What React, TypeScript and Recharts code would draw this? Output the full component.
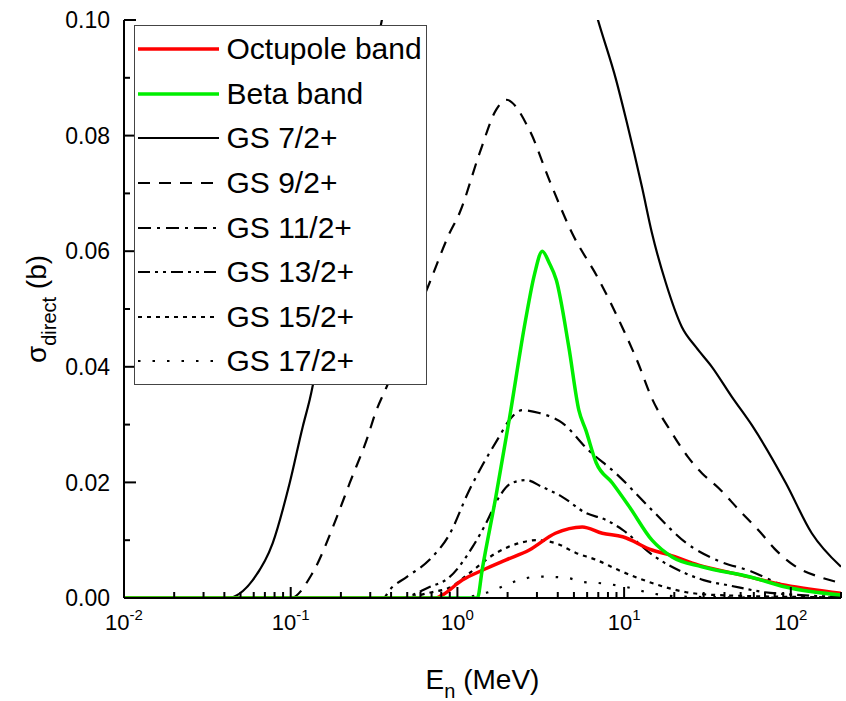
import { LineChart, Line, XAxis, YAxis, Legend, Label } from "recharts"

const FONT = '"Liberation Sans", Arial, Helvetica, sans-serif'

// neutron energy (MeV) and direct cross section (b)
const octupoleEnergy = [0.01, 0.74, 0.8, 1.07, 1.41, 1.96, 2.7, 3.87, 5.61, 7.4, 9.8, 14.7, 18.5, 28, 50, 93, 200]
const octupoleSigma = [0, 0, 0.0004, 0.0031, 0.0048, 0.0066, 0.0083, 0.0112, 0.0123, 0.0112, 0.0106, 0.0083, 0.0075, 0.0057, 0.004, 0.0022, 0.0008]

const betaEnergy = [0.01, 1.318, 1.41, 1.7, 2.05, 2.56, 2.9, 3.23, 3.55, 3.92, 4.66, 5.35, 5.9, 6.8, 8.5, 10.8, 14.7, 19.4, 29.3, 58, 93, 200]
const betaSigma = [0, 0, 0.005, 0.0175, 0.031, 0.048, 0.056, 0.06, 0.058, 0.055, 0.0434, 0.0325, 0.029, 0.0234, 0.0199, 0.0157, 0.01, 0.0071, 0.0054, 0.0036, 0.0019, 0.0005]

const gs7Energy = [0.01, 0.0414, 0.0592, 0.078, 0.0986, 0.118, 0.13, 0.2, 0.3, 0.5, 1, 2, 4, 6.89, 8.96, 10.3, 12.8, 14.7, 17.8, 22.2, 27, 33.6, 44.3, 58.4, 93.3, 133.6, 200]
const gs7Sigma = [0, 0, 0.0031, 0.0095, 0.0199, 0.0296, 0.0343, 0.065, 0.09, 0.12, 0.14, 0.145, 0.128, 0.1005, 0.0896, 0.0827, 0.0711, 0.0631, 0.0545, 0.0469, 0.0434, 0.04, 0.0348, 0.0299, 0.0199, 0.0112, 0.0054]

const gs9Energy = [0.01, 0.1, 0.135, 0.189, 0.226, 0.285, 0.327, 0.376, 0.5, 0.68, 0.896, 1.03, 1.36, 1.71, 1.96, 2.7, 3.56, 4.88, 7.08, 9.73, 12, 14.7, 19.4, 24, 29.3, 37, 49, 65, 80, 105, 150, 200]
const gs9Sigma = [0, 0, 0.0043, 0.014, 0.0199, 0.0273, 0.0325, 0.0365, 0.0452, 0.0545, 0.0631, 0.0666, 0.077, 0.0845, 0.0862, 0.081, 0.0723, 0.0631, 0.055, 0.0469, 0.041, 0.0345, 0.0285, 0.0245, 0.0216, 0.019, 0.0152, 0.0115, 0.0085, 0.0056, 0.0036, 0.0026]

const gs11Energy = [0.01, 0.36, 0.392, 0.5, 0.68, 0.896, 1.18, 1.36, 1.78, 2.05, 2.45, 3.1, 4.25, 6.1, 8.9, 14.7, 23.6, 37, 58, 85, 130, 200]
const gs11Sigma = [0, 0, 0.0014, 0.0037, 0.0066, 0.011, 0.0187, 0.0221, 0.0279, 0.0308, 0.0325, 0.032, 0.0303, 0.0256, 0.0216, 0.0152, 0.0095, 0.0064, 0.0046, 0.0025, 0.0012, 0.0005]

const gs13Energy = [0.01, 0.45, 0.68, 0.896, 1.23, 1.49, 1.78, 2.12, 2.58, 3.23, 4.25, 5.9, 7.8, 9.8, 14.7, 23.6, 30, 44, 70, 100, 200]
const gs13Sigma = [0, 0, 0.0019, 0.0036, 0.0088, 0.013, 0.0175, 0.0199, 0.0204, 0.0192, 0.0175, 0.0147, 0.0135, 0.0118, 0.0075, 0.0042, 0.0031, 0.0021, 0.001, 0.0006, 0.0002]

const gs15Energy = [0.01, 0.45, 0.7, 0.9, 1.18, 1.71, 2.35, 2.98, 3.87, 5.14, 6.8, 9.3, 14.7, 23.6, 37, 200]
const gs15Sigma = [0, 0, 0.001, 0.0018, 0.0043, 0.0078, 0.0095, 0.01, 0.0095, 0.0078, 0.0066, 0.0048, 0.0026, 0.001, 0.0005, 0.0001]

const gs17Energy = [0.01, 1.0, 1.49, 2.35, 3.0, 4.5, 5.6, 7, 10.3, 14.7, 25, 200]
const gs17Sigma = [0, 0, 0.0009, 0.0031, 0.0037, 0.0035, 0.0028, 0.0026, 0.0019, 0.0008, 0.0002, 0]

const decades = [0.01, 0.1, 1, 10, 100]
const yTicks = [0, 0.01, 0.02, 0.03, 0.04, 0.05, 0.06, 0.07, 0.08, 0.09, 0.1]
const xTicks = decades.flatMap((d) => [1, 2, 3, 4, 5, 6, 7, 8, 9].map((m) => +(d * m).toPrecision(3)))

const toPoints = (e: number[], s: number[]) => e.map((v, i) => ({ e: v, s: s[i] }))

const series = [
  { name: "Octupole band", data: toPoints(octupoleEnergy, octupoleSigma), color: "#ff0000", width: 3.5, dash: undefined },
  { name: "Beta band", data: toPoints(betaEnergy, betaSigma), color: "#00ee00", width: 3.5, dash: undefined },
  { name: "GS 7/2+", data: toPoints(gs7Energy, gs7Sigma), color: "#000", width: 2.2, dash: undefined },
  { name: "GS 9/2+", data: toPoints(gs9Energy, gs9Sigma), color: "#000", width: 2.2, dash: "12 9" },
  { name: "GS 11/2+", data: toPoints(gs11Energy, gs11Sigma), color: "#000", width: 2.2, dash: "13 6 3 6" },
  { name: "GS 13/2+", data: toPoints(gs13Energy, gs13Sigma), color: "#000", width: 2.2, dash: "12 5 3 5 3 5" },
  { name: "GS 15/2+", data: toPoints(gs15Energy, gs15Sigma), color: "#000", width: 2.2, dash: "4 5" },
  { name: "GS 17/2+", data: toPoints(gs17Energy, gs17Sigma), color: "#000", width: 2.2, dash: "2.5 12" },
]

// black curves underneath, coloured bands on top
const drawOrder = [...series.slice(2), series[0], series[1]]

const axisStyle = { stroke: "#000", strokeWidth: 2 }

const XTick = (props: any) => {
  const { x, y, payload, side } = props
  const v = payload.value as number
  const exp = Math.round(Math.log10(v))
  const major = Math.abs(Math.log10(v) - exp) < 1e-6
  const len = major ? 11 : 6
  const dir = side === "top" ? 1 : -1
  return (
    <g>
      <line x1={x} x2={x} y1={y} y2={y + dir * len} stroke="#000" strokeWidth={2} />
      {side === "bottom" && major && (
        <text x={x} y={y + 32} textAnchor="middle" fontSize={22} fontFamily={FONT} fill="#000">
          10
          <tspan dy={-10} fontSize={15}>{String(exp)}</tspan>
        </text>
      )}
    </g>
  )
}

const YTick = (props: any) => {
  const { x, y, payload, side } = props
  const v = payload.value as number
  const major = Math.round(v * 100) % 2 === 0
  const len = major ? 12 : 6
  const dir = side === "right" ? -1 : 1
  return (
    <g>
      <line x1={x} x2={x + dir * len} y1={y} y2={y} stroke="#000" strokeWidth={2} />
      {side === "left" && major && (
        <text x={x - 14} y={y} dy="0.36em" textAnchor="end" fontSize={23} fontFamily={FONT} fill="#000">
          {v.toFixed(2)}
        </text>
      )}
    </g>
  )
}

const XTitle = (props: any) => {
  const { x, y, width } = props.viewBox
  return (
    <text x={x + width / 2} y={y + 91} textAnchor="middle" fontSize={28} fontFamily={FONT} fill="#000">
      E
      <tspan fontSize={20} dy={9}>n</tspan>
      <tspan dy={-9}> (MeV)</tspan>
    </text>
  )
}

const YTitle = (props: any) => {
  const { x, y, height } = props.viewBox
  const cx = x + 12
  const cy = y + height / 2
  return (
    <text
      x={cx}
      y={cy}
      transform={`rotate(-90, ${cx}, ${cy})`}
      textAnchor="middle"
      fontSize={28}
      fontFamily={FONT}
      fill="#000"
    >
      σ
      <tspan fontSize={20} dy={10}>direct</tspan>
      <tspan dy={-10}> (b)</tspan>
    </text>
  )
}

const LegendBox = () => (
  <div
    style={{
      width: 293,
      height: 360,
      boxSizing: "border-box",
      background: "#fff",
      border: "1.5px solid #444",
      paddingTop: 1,
    }}
  >
    {series.map((s) => (
      <div key={s.name} style={{ display: "flex", alignItems: "center", height: 44.6 }}>
        <svg width={81} height={10} style={{ marginLeft: 2.5, display: "block" }}>
          <line x1={0} x2={81} y1={5} y2={5} stroke={s.color} strokeWidth={s.width} strokeDasharray={s.dash} />
        </svg>
        <span style={{ marginLeft: 8, fontSize: 30, lineHeight: 1, fontFamily: FONT, color: "#000", whiteSpace: "nowrap" }}>
          {s.name}
        </span>
      </div>
    ))}
  </div>
)

export default function App() {
  return (
    <div style={{ position: "absolute", left: 0, top: 0, width: 846, height: 701, background: "#fff" }}>
      <LineChart width={846} height={701} margin={{ top: 20, right: 5, bottom: 63, left: 34 }}>
        <XAxis
          xAxisId="b"
          dataKey="e"
          type="number"
          scale="log"
          domain={[0.01, 200]}
          allowDataOverflow
          ticks={xTicks}
          interval={0}
          tickSize={0}
          tickMargin={0}
          tickLine={false}
          axisLine={axisStyle}
          height={40}
          tick={(p: any) => <XTick {...p} side="bottom" />}
        >
          <Label content={XTitle} />
        </XAxis>
        <XAxis
          xAxisId="t"
          orientation="top"
          dataKey="e"
          type="number"
          scale="log"
          domain={[0.01, 200]}
          allowDataOverflow
          ticks={xTicks}
          interval={0}
          tickSize={0}
          tickMargin={0}
          tickLine={false}
          axisLine={axisStyle}
          height={0}
          tick={(p: any) => <XTick {...p} side="top" />}
        />
        <YAxis
          yAxisId="l"
          type="number"
          domain={[0, 0.1]}
          allowDataOverflow
          ticks={yTicks}
          interval={0}
          tickSize={0}
          tickMargin={0}
          tickLine={false}
          axisLine={axisStyle}
          width={90}
          tick={(p: any) => <YTick {...p} side="left" />}
        >
          <Label content={YTitle} />
        </YAxis>
        <YAxis
          yAxisId="r"
          orientation="right"
          type="number"
          domain={[0, 0.1]}
          allowDataOverflow
          ticks={yTicks}
          interval={0}
          tickSize={0}
          tickMargin={0}
          tickLine={false}
          axisLine={axisStyle}
          width={0}
          tick={(p: any) => <YTick {...p} side="right" />}
        />
        <Legend
          layout="vertical"
          align="center"
          verticalAlign="middle"
          content={() => <LegendBox />}
          wrapperStyle={{ left: 134, top: 25, width: 293, height: 360 }}
        />
        {drawOrder.map((s) => (
          <Line
            key={s.name}
            xAxisId="b"
            yAxisId="l"
            data={s.data}
            dataKey="s"
            name={s.name}
            type="monotone"
            stroke={s.color}
            strokeWidth={s.width}
            strokeDasharray={s.dash}
            dot={false}
            activeDot={false}
            isAnimationActive={false}
          />
        ))}
      </LineChart>
    </div>
  )
}
